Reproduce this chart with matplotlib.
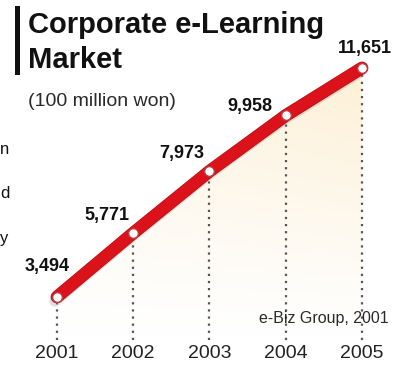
"""Corporate e-Learning market size, 2001-2005 (unit: 100 million won)."""

import matplotlib

matplotlib.use("Agg")
import matplotlib.pyplot as plt
import matplotlib.patheffects as pe
import numpy as np
from matplotlib.patches import Polygon

YEARS = [2001, 2002, 2003, 2004, 2005]
MARKET = [3494, 5771, 7973, 9958, 11651]
YEAR_LABELS = ["2001", "2002", "2003", "2004", "2005"]

TITLE_LINES = ["Corporate e-Learning", "Market"]
UNIT = "(100 million won)"
SOURCE = "e-Biz Group, 2001"

LINE_RED = "#dc121b"
LINE_EDGE = "#b0141a"
INK = "#111111"
GREY_INK = "#2a2a2a"
FONT = ["Liberation Sans", "DejaVu Sans"]

W, H = 397, 371
fig = plt.figure(figsize=(W / 100, H / 100), dpi=100)
fig.patch.set_facecolor("white")
ax = fig.add_axes([0, 0, 1, 1])
ax.set_xlim(2000.2525, 2005.459)
ax.set_ylim(855, 14072)
ax.axis("off")


def px(x, y):
    """Pixel position (from top-left) to figure fraction."""
    return x / W, 1 - y / H


def y_at(pix):
    """Pixel row (from top) to a data value on the y axis."""
    return 855 + (H - pix) / H * (14072 - 855)


# cream wash under the line, fading towards the bottom
y_floor = y_at(340)
gx = np.linspace(0, 1, 200)
gy = np.linspace(0, 1, 200)
GX, GY = np.meshgrid(gx, gy)
wash = np.zeros((200, 200, 4))
wash[..., 0] = 0.99
wash[..., 1] = 0.92
wash[..., 2] = 0.78
wash[..., 3] = np.clip(GY ** 1.1 * (0.6 + 0.4 * GX), 0, 1) * 0.75
img = ax.imshow(
    wash,
    extent=(YEARS[0], YEARS[-1], y_floor, MARKET[-1]),
    origin="lower",
    aspect="auto",
    zorder=1,
)
poly = Polygon(
    list(zip(YEARS, MARKET)) + [(YEARS[-1], y_floor), (YEARS[0], y_floor)],
    closed=True,
    transform=ax.transData,
)
img.set_clip_path(poly)

# dotted drop lines from each point to the year label
ax.vlines(
    YEARS,
    y_floor,
    MARKET,
    colors="#555555",
    linestyles=(0, (1, 2.2)),
    linewidth=1.6,
    zorder=2,
)

# thick red trend line with a soft shadow and darker rim
ax.plot(
    YEARS,
    MARKET,
    color=LINE_RED,
    linewidth=8.2,
    solid_capstyle="round",
    zorder=3,
    path_effects=[
        pe.SimpleLineShadow(offset=(-1.5, -3), shadow_color="#999999", alpha=0.3, rho=1),
        pe.Stroke(linewidth=9.2, foreground=LINE_EDGE),
        pe.Normal(),
    ],
)
ax.plot(
    YEARS,
    MARKET,
    linestyle="none",
    marker="o",
    markersize=7,
    markerfacecolor="white",
    markeredgecolor="#c23a3f",
    markeredgewidth=1.0,
    zorder=4,
)

# value labels
label_offsets = [(-10, 30), (-26, 18), (-28, 18), (-36, 9), (3, 19)]
for yr, val, (dx, dy) in zip(YEARS, MARKET, label_offsets):
    ax.annotate(
        f"{val:,}",
        (yr, val),
        xytext=(dx, dy),
        textcoords="offset pixels",
        ha="center",
        va="center",
        fontsize=13,
        fontweight="bold",
        color=INK,
        family=FONT,
        zorder=5,
    )

# year labels along the bottom
for yr, lab in zip(YEARS, YEAR_LABELS):
    ax.text(yr, y_at(353), lab, ha="center", va="center",
            fontsize=14, color="#222222", family=FONT)

# title block with the black rule on its left
fig.add_artist(
    plt.Line2D([17 / W, 17 / W], [1 - 8 / H, 1 - 72 / H], color=INK, linewidth=3.6)
)
fig.text(*px(28, 33), TITLE_LINES[0], fontsize=21, fontweight="bold",
         color=INK, family=FONT, va="baseline")
fig.text(*px(28, 68), TITLE_LINES[1], fontsize=21, fontweight="bold",
         color=INK, family=FONT, va="baseline")
fig.text(*px(28, 102), UNIT, fontsize=14, color=GREY_INK, family=FONT, va="center")

fig.text(*px(389, 318), SOURCE, fontsize=11.5, color=GREY_INK, family=FONT,
         ha="right", va="center")

# stray letters of the neighbouring column's text at the left margin
for y, ch in [(149, "n"), (194, "d"), (238, "y")]:
    fig.text(*px(0, y), ch, fontsize=12, color=INK, family=FONT, va="center")

fig.savefig("out.png", dpi=100, facecolor="white")
